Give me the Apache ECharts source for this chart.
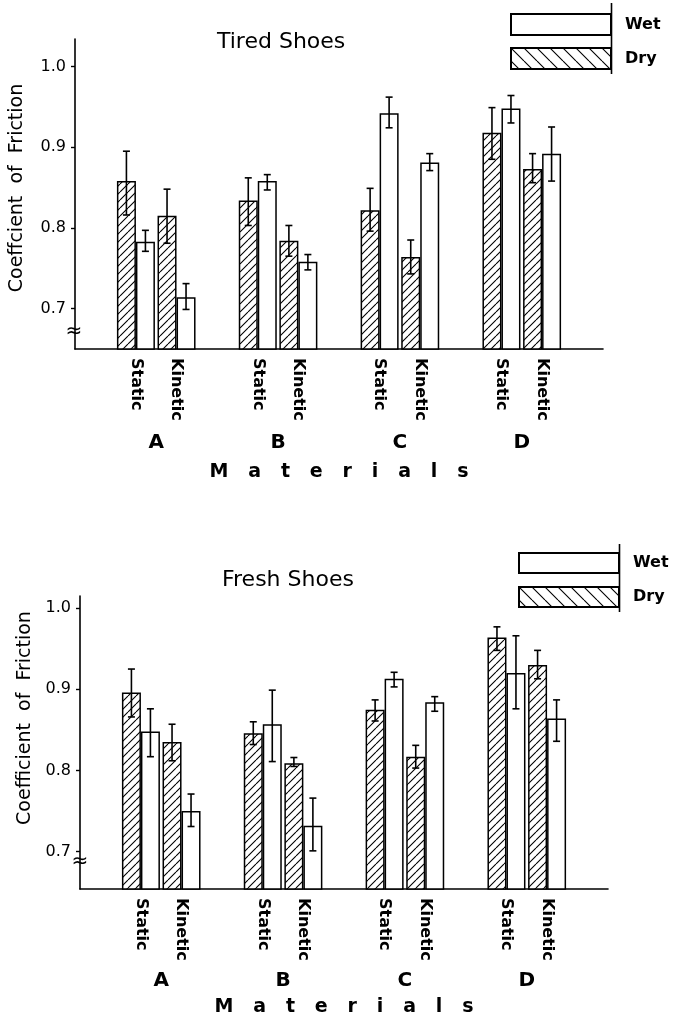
<!DOCTYPE html>
<html>
<head>
<meta charset="utf-8">
<script src="https://cdn.jsdelivr.net/npm/echarts@6/dist/echarts.min.js"></script>
<style>
  html, body { margin: 0; padding: 0; background: #fff; }
  #main { width: 674px; height: 1020px; }
</style>
</head>
<body>
<div id="main"></div>
<script type="text/javascript">
  // bar order in every array: A static, A kinetic, B static, B kinetic, C ..., D ...
  var materials = ['A', 'B', 'C', 'D'];
  var conditions = ['Static', 'Kinetic'];

  // Tired shoes
  var tiredDry = [0.858, 0.815, 0.834, 0.784, 0.822, 0.764, 0.918, 0.873];
  var tiredDryLow = [0.816, 0.781, 0.803, 0.765, 0.796, 0.743, 0.885, 0.856];
  var tiredDryHigh = [0.895, 0.848, 0.862, 0.803, 0.849, 0.785, 0.949, 0.892];
  var tiredWet = [0.783, 0.714, 0.858, 0.758, 0.942, 0.881, 0.948, 0.892];
  var tiredWetLow = [0.771, 0.699, 0.847, 0.748, 0.924, 0.871, 0.930, 0.858];
  var tiredWetHigh = [0.797, 0.731, 0.866, 0.767, 0.962, 0.892, 0.964, 0.925];

  // Fresh shoes
  var freshDry = [0.896, 0.835, 0.846, 0.809, 0.875, 0.817, 0.964, 0.930];
  var freshDryLow = [0.866, 0.812, 0.832, 0.805, 0.861, 0.803, 0.948, 0.913];
  var freshDryHigh = [0.925, 0.857, 0.860, 0.816, 0.887, 0.831, 0.977, 0.948];
  var freshWet = [0.848, 0.750, 0.857, 0.732, 0.913, 0.884, 0.920, 0.864];
  var freshWetLow = [0.817, 0.731, 0.811, 0.701, 0.903, 0.873, 0.876, 0.836];
  var freshWetHigh = [0.876, 0.771, 0.899, 0.766, 0.921, 0.891, 0.966, 0.887];

  var yTicks = [0.7, 0.8, 0.9, 1.0];

  var BAR_W = 19;
  var FONT = 'DejaVu Sans';

  // hatch fills
  function hatch(size, back) {
    var c = document.createElement('canvas');
    c.width = size;
    c.height = size;
    var ctx = c.getContext('2d');
    ctx.fillStyle = '#fff';
    ctx.fillRect(0, 0, size, size);
    ctx.strokeStyle = '#000';
    ctx.lineWidth = 1.1;
    ctx.beginPath();
    for (var k = -1; k <= 1; k++) {
      if (back) {
        ctx.moveTo(k * size, 0);
        ctx.lineTo(k * size + size, size);
      } else {
        ctx.moveTo(k * size, size);
        ctx.lineTo(k * size + size, 0);
      }
    }
    ctx.stroke();
    return { image: c, repeat: 'repeat' };
  }
  var fwdHatch = hatch(8, false);
  var backHatch = hatch(13, true);

  // 13 slots: spacer, static, kinetic, spacer, ...
  var slotLabels = [''];
  materials.forEach(function () {
    slotLabels.push(conditions[0], conditions[1], '');
  });
  function slotOf(i) {
    return 1 + 3 * Math.floor(i / 2) + (i % 2);
  }
  function toSlots(values) {
    var out = slotLabels.map(function () { return '-'; });
    values.forEach(function (v, i) { out[slotOf(i)] = v; });
    return out;
  }
  // material letters sit between the two bars of a pair (14 ticks, no boundary gap)
  var materialLabels = [];
  for (var t = 0; t < 14; t++) materialLabels.push('');
  materials.forEach(function (m, j) { materialLabels[2 + 3 * j] = m; });

  function errorItem(params, api) {
    var side = api.value(3);
    var lo = api.coord([api.value(0), api.value(1)]);
    var hi = api.coord([api.value(0), api.value(2)]);
    var x = lo[0] + side * BAR_W / 2;
    var cap = 3.5;
    var st = { stroke: '#000', lineWidth: 1.6 };
    return {
      type: 'group',
      children: [
        { type: 'line', shape: { x1: x, y1: lo[1], x2: x, y2: hi[1] }, style: st },
        { type: 'line', shape: { x1: x - cap, y1: lo[1], x2: x + cap, y2: lo[1] }, style: st },
        { type: 'line', shape: { x1: x - cap, y1: hi[1], x2: x + cap, y2: hi[1] }, style: st }
      ]
    };
  }
  function errorData(dLow, dHigh, wLow, wHigh) {
    var out = [];
    dLow.forEach(function (v, i) {
      out.push([slotOf(i), dLow[i], dHigh[i], -1]);
      out.push([slotOf(i), wLow[i], wHigh[i], 1]);
    });
    return out;
  }

  var grids = [
    { left: 75, right: 71, top: 39, bottom: 671, outerBoundsMode: 'none' },
    { left: 80, right: 66, top: 596, bottom: 131, outerBoundsMode: 'none' }
  ];

  var xAxes = [];
  var yAxes = [];
  var series = [];
  var sets = [
    { dry: tiredDry, dl: tiredDryLow, dh: tiredDryHigh, wet: tiredWet, wl: tiredWetLow, wh: tiredWetHigh, min: 0.65, max: 1.034, lm: 84, ng: 114 },
    { dry: freshDry, dl: freshDryLow, dh: freshDryHigh, wet: freshWet, wl: freshWetLow, wh: freshWetHigh, min: 0.654, max: 1.015, lm: 82, ng: 109 }
  ];

  sets.forEach(function (s, g) {
    xAxes.push({
      type: 'category',
      gridIndex: g,
      position: 'bottom',
      data: slotLabels,
      axisLine: { lineStyle: { color: '#000', width: 1.6 } },
      axisTick: { show: false },
      axisLabel: {
        interval: 0,
        rotate: -90,
        margin: 9,
        color: '#000',
        fontSize: 16,
        fontWeight: 'bold',
        fontFamily: FONT
      }
    });
    xAxes.push({
      type: 'category',
      gridIndex: g,
      position: 'bottom',
      boundaryGap: false,
      data: materialLabels,
      axisLine: { show: false },
      axisTick: { show: false },
      axisLabel: {
        interval: 0,
        margin: s.lm,
        color: '#000',
        fontSize: 20,
        fontWeight: 'bold',
        fontFamily: FONT
      },
      name: 'M   a   t   e   r   i   a   l   s',
      nameLocation: 'middle',
      nameGap: s.ng,
      nameMoveOverlap: false,
      nameTextStyle: { color: '#000', fontSize: 19, fontWeight: 'bold', fontFamily: FONT }
    });
    yAxes.push({
      type: 'value',
      gridIndex: g,
      min: s.min,
      max: s.max,
      splitLine: { show: false },
      axisLine: { show: true, lineStyle: { color: '#000', width: 1.6 } },
      axisTick: { show: true, length: 4, customValues: yTicks, lineStyle: { color: '#000', width: 1.4 } },
      axisLabel: {
        margin: 9,
        customValues: yTicks,
        color: '#000',
        fontSize: 16,
        fontFamily: FONT,
        formatter: function (v) { return v.toFixed(1); }
      }
    });
    series.push({
      name: 'Dry',
      type: 'bar',
      xAxisIndex: 2 * g,
      yAxisIndex: g,
      barWidth: BAR_W,
      barGap: '0%',
      data: toSlots(s.dry),
      itemStyle: { color: fwdHatch, borderColor: '#000', borderWidth: 1.5 }
    });
    series.push({
      name: 'Wet',
      type: 'bar',
      xAxisIndex: 2 * g,
      yAxisIndex: g,
      barWidth: BAR_W,
      barGap: '0%',
      data: toSlots(s.wet),
      itemStyle: { color: '#fff', borderColor: '#000', borderWidth: 1.5 }
    });
    series.push({
      type: 'custom',
      xAxisIndex: 2 * g,
      yAxisIndex: g,
      z: 5,
      encode: { x: 0, y: [1, 2] },
      renderItem: errorItem,
      data: errorData(s.dl, s.dh, s.wl, s.wh)
    });
  });

  function legend(left, top, gap, h) {
    return {
      left: left,
      top: top,
      padding: 0,
      orient: 'vertical',
      itemWidth: 100,
      itemHeight: h,
      itemGap: gap,
      icon: 'rect',
      selectedMode: false,
      textStyle: { color: '#000', fontSize: 16, fontWeight: 'bold', fontFamily: FONT, padding: [0, 0, 0, 9] },
      data: [
        { name: 'Wet' },
        { name: 'Dry', itemStyle: { color: backHatch } }
      ]
    };
  }

  function yName(x, y, text) {
    return {
      type: 'text',
      x: x,
      y: y,
      rotation: Math.PI / 2,
      style: {
        text: text,
        fill: '#000',
        fontSize: 19,
        fontFamily: FONT,
        textAlign: 'center',
        verticalAlign: 'middle'
      }
    };
  }
  function brk(x, y) {
    return {
      type: 'text',
      x: x,
      y: y,
      z: 10,
      style: { text: '\u2248', fill: '#000', fontSize: 20, fontFamily: FONT, textAlign: 'center', verticalAlign: 'middle' }
    };
  }

  var myChart = echarts.init(document.getElementById('main'));
  var option = {
    animation: false,
    backgroundColor: '#fff',
    title: [
      { text: 'Tired Shoes', left: 212, top: 26, textStyle: { color: '#000', fontSize: 22, fontWeight: 'normal', fontFamily: FONT } },
      { text: 'Fresh Shoes', left: 217, top: 564, textStyle: { color: '#000', fontSize: 22, fontWeight: 'normal', fontFamily: FONT } }
    ],
    legend: [legend(510, 13, 11, 21), legend(518, 552, 12, 20)],
    grid: grids,
    xAxis: xAxes,
    yAxis: yAxes,
    series: series,
    graphic: [
      yName(17, 188, 'Coeffcient  of  Friction'),
      yName(25, 718, 'Coefficient  of  Friction'),
      brk(74, 332),
      brk(80, 862),
      { type: 'line', shape: { x1: 611.5, y1: 3, x2: 611.5, y2: 74 }, style: { stroke: '#000', lineWidth: 1.6 } },
      { type: 'line', shape: { x1: 619.5, y1: 544, x2: 619.5, y2: 612 }, style: { stroke: '#000', lineWidth: 1.6 } }
    ]
  };
  myChart.setOption(option);

  window.addEventListener('resize', myChart.resize);
</script>
</body>
</html>
